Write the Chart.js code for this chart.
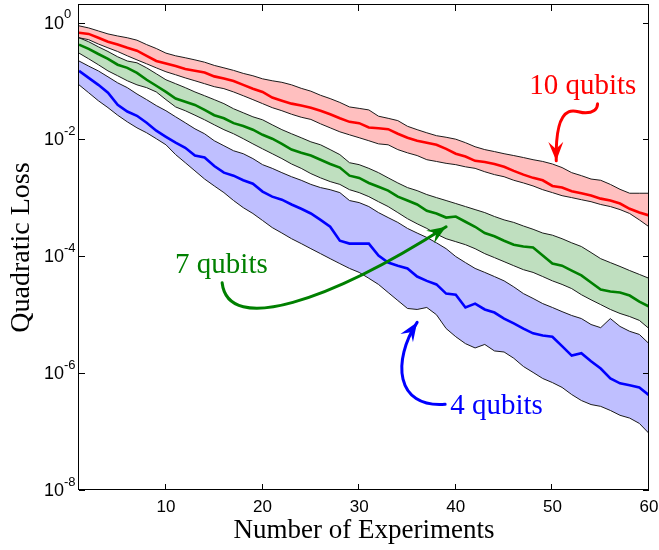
<!DOCTYPE html>
<html><head><meta charset="utf-8">
<style>html,body{margin:0;padding:0;background:#fff;}canvas{display:block;}</style>
<script src="https://cdn.jsdelivr.net/npm/chart.js@4.4.1/dist/chart.umd.min.js"></script>
</head><body>
<canvas id="c" width="659" height="550"></canvas>
<script>
// ---------- data ----------
const experiments = [1,2,3,4,5,6,7,8,9,10,11,12,13,14,15,16,17,18,19,20,21,22,23,24,25,26,27,28,29,30,31,32,33,34,35,36,37,38,39,40,41,42,43,44,45,46,47,48,49,50,51,52,53,54,55,56,57,58,59,60];

const q10Upper = [0.88,0.81,0.72,0.64,0.59,0.55,0.50,0.42,0.36,0.30, 0.27,0.25,0.23,0.21,0.185,0.168,0.152,0.135,0.123,0.109, 0.101,0.095,0.086,0.075,0.067,0.057,0.050,0.043,0.036,0.034, 0.032,0.025,0.023,0.021,0.0168,0.0147,0.0130,0.0116,0.0109,0.0101, 0.0088,0.0075,0.0067,0.0062,0.0057,0.0053,0.0049,0.0045,0.0042,0.0038, 0.0033,0.0027,0.0024,0.0021,0.0020,0.0017,0.0014,0.0012,0.0012,0.0012];
const q10Mean = [0.67,0.64,0.55,0.47,0.42,0.37,0.33,0.27,0.22,0.20, 0.18,0.16,0.15,0.14,0.12,0.11,0.10,0.086,0.074,0.065, 0.052,0.046,0.041,0.038,0.035,0.031,0.027,0.023,0.020,0.019, 0.016,0.0155,0.015,0.0125,0.0107,0.0095,0.0088,0.0081,0.0069,0.0057, 0.0051,0.0043,0.0041,0.0038,0.0034,0.0029,0.0025,0.0022,0.0020,0.0016, 0.0015,0.0013,0.0012,0.0011,0.00097,0.00090,0.00080,0.00065,0.00056,0.00050];
const q10Lower = [0.55,0.51,0.43,0.37,0.32,0.27,0.23,0.197,0.168,0.144, 0.128,0.113,0.101,0.090,0.080,0.074,0.065,0.056,0.048,0.041, 0.035,0.031,0.027,0.024,0.022,0.0185,0.0158,0.0135,0.0120,0.0107, 0.0095,0.0084,0.0081,0.0067,0.0059,0.0053,0.0045,0.0042,0.0039,0.0037, 0.0034,0.0032,0.0028,0.0025,0.0023,0.0020,0.0018,0.0016,0.00138,0.00123, 0.00109,0.00101,0.00093,0.00086,0.00077,0.00071,0.00063,0.00054,0.00042,0.00032];

const q7Upper = [0.55,0.47,0.385,0.32,0.26,0.22,0.205,0.168,0.133,0.105, 0.090,0.077,0.065,0.056,0.048,0.041,0.0335,0.0286,0.0244,0.0217, 0.0178,0.0147,0.0125,0.0107,0.0091,0.0081,0.0067,0.0055,0.0040,0.0037, 0.0032,0.0027,0.0022,0.0018,0.0015,0.00133,0.00114,0.00101,0.00090,0.00080, 0.00071,0.00063,0.00056,0.00048,0.00042,0.00038,0.00033,0.00029,0.00025,0.00023, 0.00020,0.00017,0.000147,0.000116,0.000091,0.000078,0.000067,0.000057,0.000049,0.000042];
const q7Mean = [0.42,0.355,0.29,0.24,0.19,0.168,0.138,0.105,0.083,0.065, 0.050,0.044,0.039,0.032,0.026,0.023,0.019,0.017,0.0147,0.0120, 0.0103,0.0084,0.0067,0.0059,0.0053,0.0045,0.0038,0.0033,0.0024,0.0022, 0.0018,0.00155,0.00133,0.00105,0.00090,0.00077,0.00060,0.00054,0.00046,0.00048, 0.00039,0.00032,0.00025,0.00022,0.000185,0.000158,0.000147,0.000141,0.000103,0.000075, 0.000069,0.000057,0.000047,0.0000355,0.000027,0.000025,0.000024,0.0000213,0.0000168,0.0000138];
const q7Lower = [0.30,0.24,0.19,0.149,0.123,0.101,0.086,0.077,0.065,0.048, 0.036,0.031,0.026,0.0217,0.0178,0.0147,0.0125,0.0103,0.0084,0.0069, 0.0057,0.0047,0.0038,0.0032,0.0026,0.0022,0.0019,0.0017,0.00138,0.00123, 0.00105,0.00086,0.00071,0.00056,0.00044,0.00036,0.00030,0.00024,0.00020,0.000178, 0.000158,0.000135,0.000111,0.000095,0.000081,0.000069,0.000059,0.000053,0.000045,0.000038, 0.000033,0.000028,0.000022,0.000018,0.0000149,0.0000123,0.0000105,0.0000093,0.0000080,0.0000058];

const q4Upper = [0.22,0.18,0.149,0.118,0.093,0.077,0.060,0.048,0.038,0.031, 0.0244,0.0193,0.0152,0.0125,0.0095,0.0078,0.0064,0.0057,0.0047,0.0037, 0.0032,0.0027,0.0023,0.0020,0.0017,0.0015,0.00138,0.00123,0.00090,0.00083, 0.00071,0.00056,0.00046,0.00038,0.00030,0.00025,0.00021,0.00017,0.000135,0.000099, 0.000078,0.000062,0.000053,0.000045,0.000038,0.000030,0.000023,0.000019,0.0000155,0.0000133, 0.0000113,0.0000097,0.0000086,0.0000068,0.0000060,0.0000086,0.0000063,0.0000052,0.0000046,0.0000032];
const q4Mean = [0.149,0.113,0.086,0.063,0.039,0.030,0.0254,0.0193,0.0141,0.0111, 0.0088,0.0072,0.0053,0.0049,0.0035,0.0027,0.0024,0.0020,0.00175,0.00128, 0.00105,0.00093,0.00077,0.00065,0.00054,0.00042,0.00032,0.000185,0.000165,0.000165, 0.000165,0.000103,0.000078,0.000069,0.000062,0.000045,0.000038,0.000033,0.000023,0.000022, 0.0000133,0.0000155,0.0000123,0.0000109,0.0000086,0.0000071,0.0000058,0.0000048,0.0000044,0.0000042, 0.0000029,0.0000020,0.0000022,0.0000016,0.0000012,8.1e-7,6.7e-7,6.2e-7,5.7e-7,4.2e-7];
const q4Lower = [0.086,0.063,0.046,0.035,0.026,0.020,0.0158,0.0130,0.0103,0.0081, 0.0055,0.0040,0.0029,0.0021,0.0016,0.00123,0.00090,0.00068,0.00054,0.00041, 0.00031,0.00025,0.00020,0.000165,0.000135,0.000111,0.000091,0.000075,0.000062,0.000053, 0.000042,0.000033,0.000024,0.0000175,0.0000128,0.0000123,0.0000133,0.0000100,0.0000058,0.0000042, 0.0000032,0.0000027,0.0000031,0.0000024,0.0000023,0.0000018,0.0000013,1.03e-6,8.1e-7,6.9e-7, 5.7e-7,4.3e-7,3.4e-7,2.9e-7,2.7e-7,2.3e-7,1.9e-7,1.7e-7,1.38e-7,9.3e-8];

const xTickValues = [10,20,30,40,50,60];
const yTickValues = [1,1e-2,1e-4,1e-6,1e-8];
const yTickExponents = ['0','-2','-4','-6','-8'];

const noteTexts = ['10 qubits','7 qubits','4 qubits'];
// arrow tip positions in data coordinates [experiments, loss]
const noteTips = [[50.4,0.0043],[39.0,3.2e-4],[36.0,7.4e-6]];

// ---------- styling / geometry (not data) ----------
const noteColors = ['#ff0000','#008000','#0000ff'];
const noteTextOffsets = [[-27,-67],[-271,46],[33,92]];
const notePaths = [
  [[41.3,-57],[41.3,-51],[36.3,-48],[29.3,-48],[22.3,-48],[18.3,-52],[12.3,-49],[3.3,-45],[-0.7,-30],[0,0]],
  [[-224,56],[-218,109],[-116,74],[0,0]],
  [[28,82],[-22,86],[-25,38],[0,0]]
];

function pts(arr){ return arr.map((v,i)=>({x:experiments[i], y:v})); }

const edge = {borderColor:'#1a1a1a', borderWidth:1, pointRadius:0, tension:0};
const datasets = [
  {label:'10 qubits', data:pts(q10Mean), borderColor:'#ff0000', borderWidth:2.6, pointRadius:0, fill:false},
  {label:'7 qubits', data:pts(q7Mean), borderColor:'#008000', borderWidth:2.6, pointRadius:0, fill:false},
  {label:'4 qubits', data:pts(q4Mean), borderColor:'#0000ff', borderWidth:2.6, pointRadius:0, fill:false},
  Object.assign({label:'10 upper', data:pts(q10Upper), fill:4, backgroundColor:'rgb(255,191,191)'}, edge),
  Object.assign({label:'10 lower', data:pts(q10Lower), fill:false}, edge),
  Object.assign({label:'7 upper', data:pts(q7Upper), fill:6, backgroundColor:'rgb(191,223,191)'}, edge),
  Object.assign({label:'7 lower', data:pts(q7Lower), fill:false}, edge),
  Object.assign({label:'4 upper', data:pts(q4Upper), fill:8, backgroundColor:'rgb(191,191,255)'}, edge),
  Object.assign({label:'4 lower', data:pts(q4Lower), fill:false}, edge)
];

function arrowHead(ctx, tx, ty, ang, color){
  const len = 19, hw = 7.5;
  const dx = Math.cos(ang), dy = Math.sin(ang);
  const px = -dy, py = dx;
  ctx.fillStyle = color;
  ctx.beginPath();
  ctx.moveTo(tx, ty);
  ctx.lineTo(tx - len*dx + hw*px, ty - len*dy + hw*py);
  ctx.lineTo(tx - 0.62*len*dx, ty - 0.62*len*dy);
  ctx.lineTo(tx - len*dx - hw*px, ty - len*dy - hw*py);
  ctx.closePath();
  ctx.fill();
}

const annotationPlugin = {
  id:'notes',
  afterDatasetsDraw(chart){
    const {ctx, scales:{x, y}} = chart;
    ctx.save();
    noteTexts.forEach((t,i)=>{
      const tx = x.getPixelForValue(noteTips[i][0]);
      const ty = y.getPixelForValue(noteTips[i][1]);
      const p = notePaths[i].map(q=>[tx+q[0], ty+q[1]]);
      ctx.strokeStyle = noteColors[i];
      ctx.lineWidth = 3;
      ctx.lineCap = 'round';
      ctx.beginPath();
      ctx.moveTo(p[0][0], p[0][1]);
      for(let k=1;k+2<p.length;k+=3){
        ctx.bezierCurveTo(p[k][0],p[k][1],p[k+1][0],p[k+1][1],p[k+2][0],p[k+2][1]);
      }
      ctx.stroke();
      const c = p[p.length-2], e = p[p.length-1];
      arrowHead(ctx, e[0], e[1], Math.atan2(e[1]-c[1], e[0]-c[0]), noteColors[i]);
      ctx.fillStyle = noteColors[i];
      ctx.font = '29px "Liberation Serif"';
      ctx.textAlign = 'left';
      ctx.textBaseline = 'alphabetic';
      ctx.fillText(t, tx + noteTextOffsets[i][0], ty + noteTextOffsets[i][1]);
    });
    ctx.restore();
  }
};

const framePlugin = {
  id:'frame',
  afterDraw(chart){
    const {ctx, chartArea:a, scales:{x, y}} = chart;
    ctx.save();
    ctx.strokeStyle = '#000';
    ctx.lineWidth = 1;
    ctx.beginPath();
    xTickValues.forEach(v=>{
      const px = Math.round(x.getPixelForValue(v)) - 0.5;
      ctx.moveTo(px, a.bottom); ctx.lineTo(px, a.bottom - 6);
      ctx.moveTo(px, a.top); ctx.lineTo(px, a.top + 6);
    });
    yTickValues.forEach(v=>{
      const py = Math.round(y.getPixelForValue(v)) + 0.5;
      ctx.moveTo(a.left, py); ctx.lineTo(a.left + 6, py);
      ctx.moveTo(a.right, py); ctx.lineTo(a.right - 6, py);
    });
    ctx.stroke();
    ctx.strokeRect(Math.round(a.left) - 0.5, Math.round(a.top) - 0.5, Math.round(a.right - a.left), Math.round(a.bottom - a.top));
    ctx.fillStyle = '#000';
    yTickValues.forEach((v,i)=>{
      const py = y.getPixelForValue(v);
      ctx.font = '18px "Liberation Sans"';
      ctx.textAlign = 'right';
      ctx.textBaseline = 'middle';
      ctx.fillText('10', a.left - 15, py + 1);
      ctx.font = '13px "Liberation Sans"';
      ctx.textAlign = 'left';
      ctx.fillText(yTickExponents[i], a.left - 15, py - 8);
    });
    ctx.restore();
  }
};

new Chart(document.getElementById('c'), {
  type:'line',
  data:{datasets},
  options:{
    responsive:false,
    animation:false,
    devicePixelRatio:1,
    layout:{padding:{top:5, right:10, left:0, bottom:0}},
    plugins:{legend:{display:false}, tooltip:{enabled:false}, filler:{drawTime:'beforeDatasetsDraw'}},
    elements:{line:{tension:0}},
    scales:{
      x:{
        type:'linear', min:1, max:60,
        afterBuildTicks: s => { s.ticks = xTickValues.map(v=>({value:v})); },
        afterFit: s => { s.height = 60; s.paddingLeft = 0; s.paddingRight = 0; },
        grid:{display:false, drawTicks:false},
        border:{display:false},
        ticks:{color:'#000', padding:7, font:{family:'Liberation Sans', size:17}, maxRotation:0},
        title:{display:true, text:'Number of Experiments', color:'#000', font:{family:'Liberation Serif', size:27}, padding:{top:0, bottom:3}}
      },
      y:{
        type:'logarithmic', min:1e-8, max:2,
        afterFit: s => { s.width = 79; s.paddingTop = 0; s.paddingBottom = 0; },
        grid:{display:false, drawTicks:false},
        border:{display:false},
        ticks:{display:false},
        title:{display:true, text:'Quadratic Loss', color:'#000', font:{family:'Liberation Serif', size:28}, padding:{top:5, bottom:0}}
      }
    }
  },
  plugins:[annotationPlugin, framePlugin]
});
</script>
</body></html>
